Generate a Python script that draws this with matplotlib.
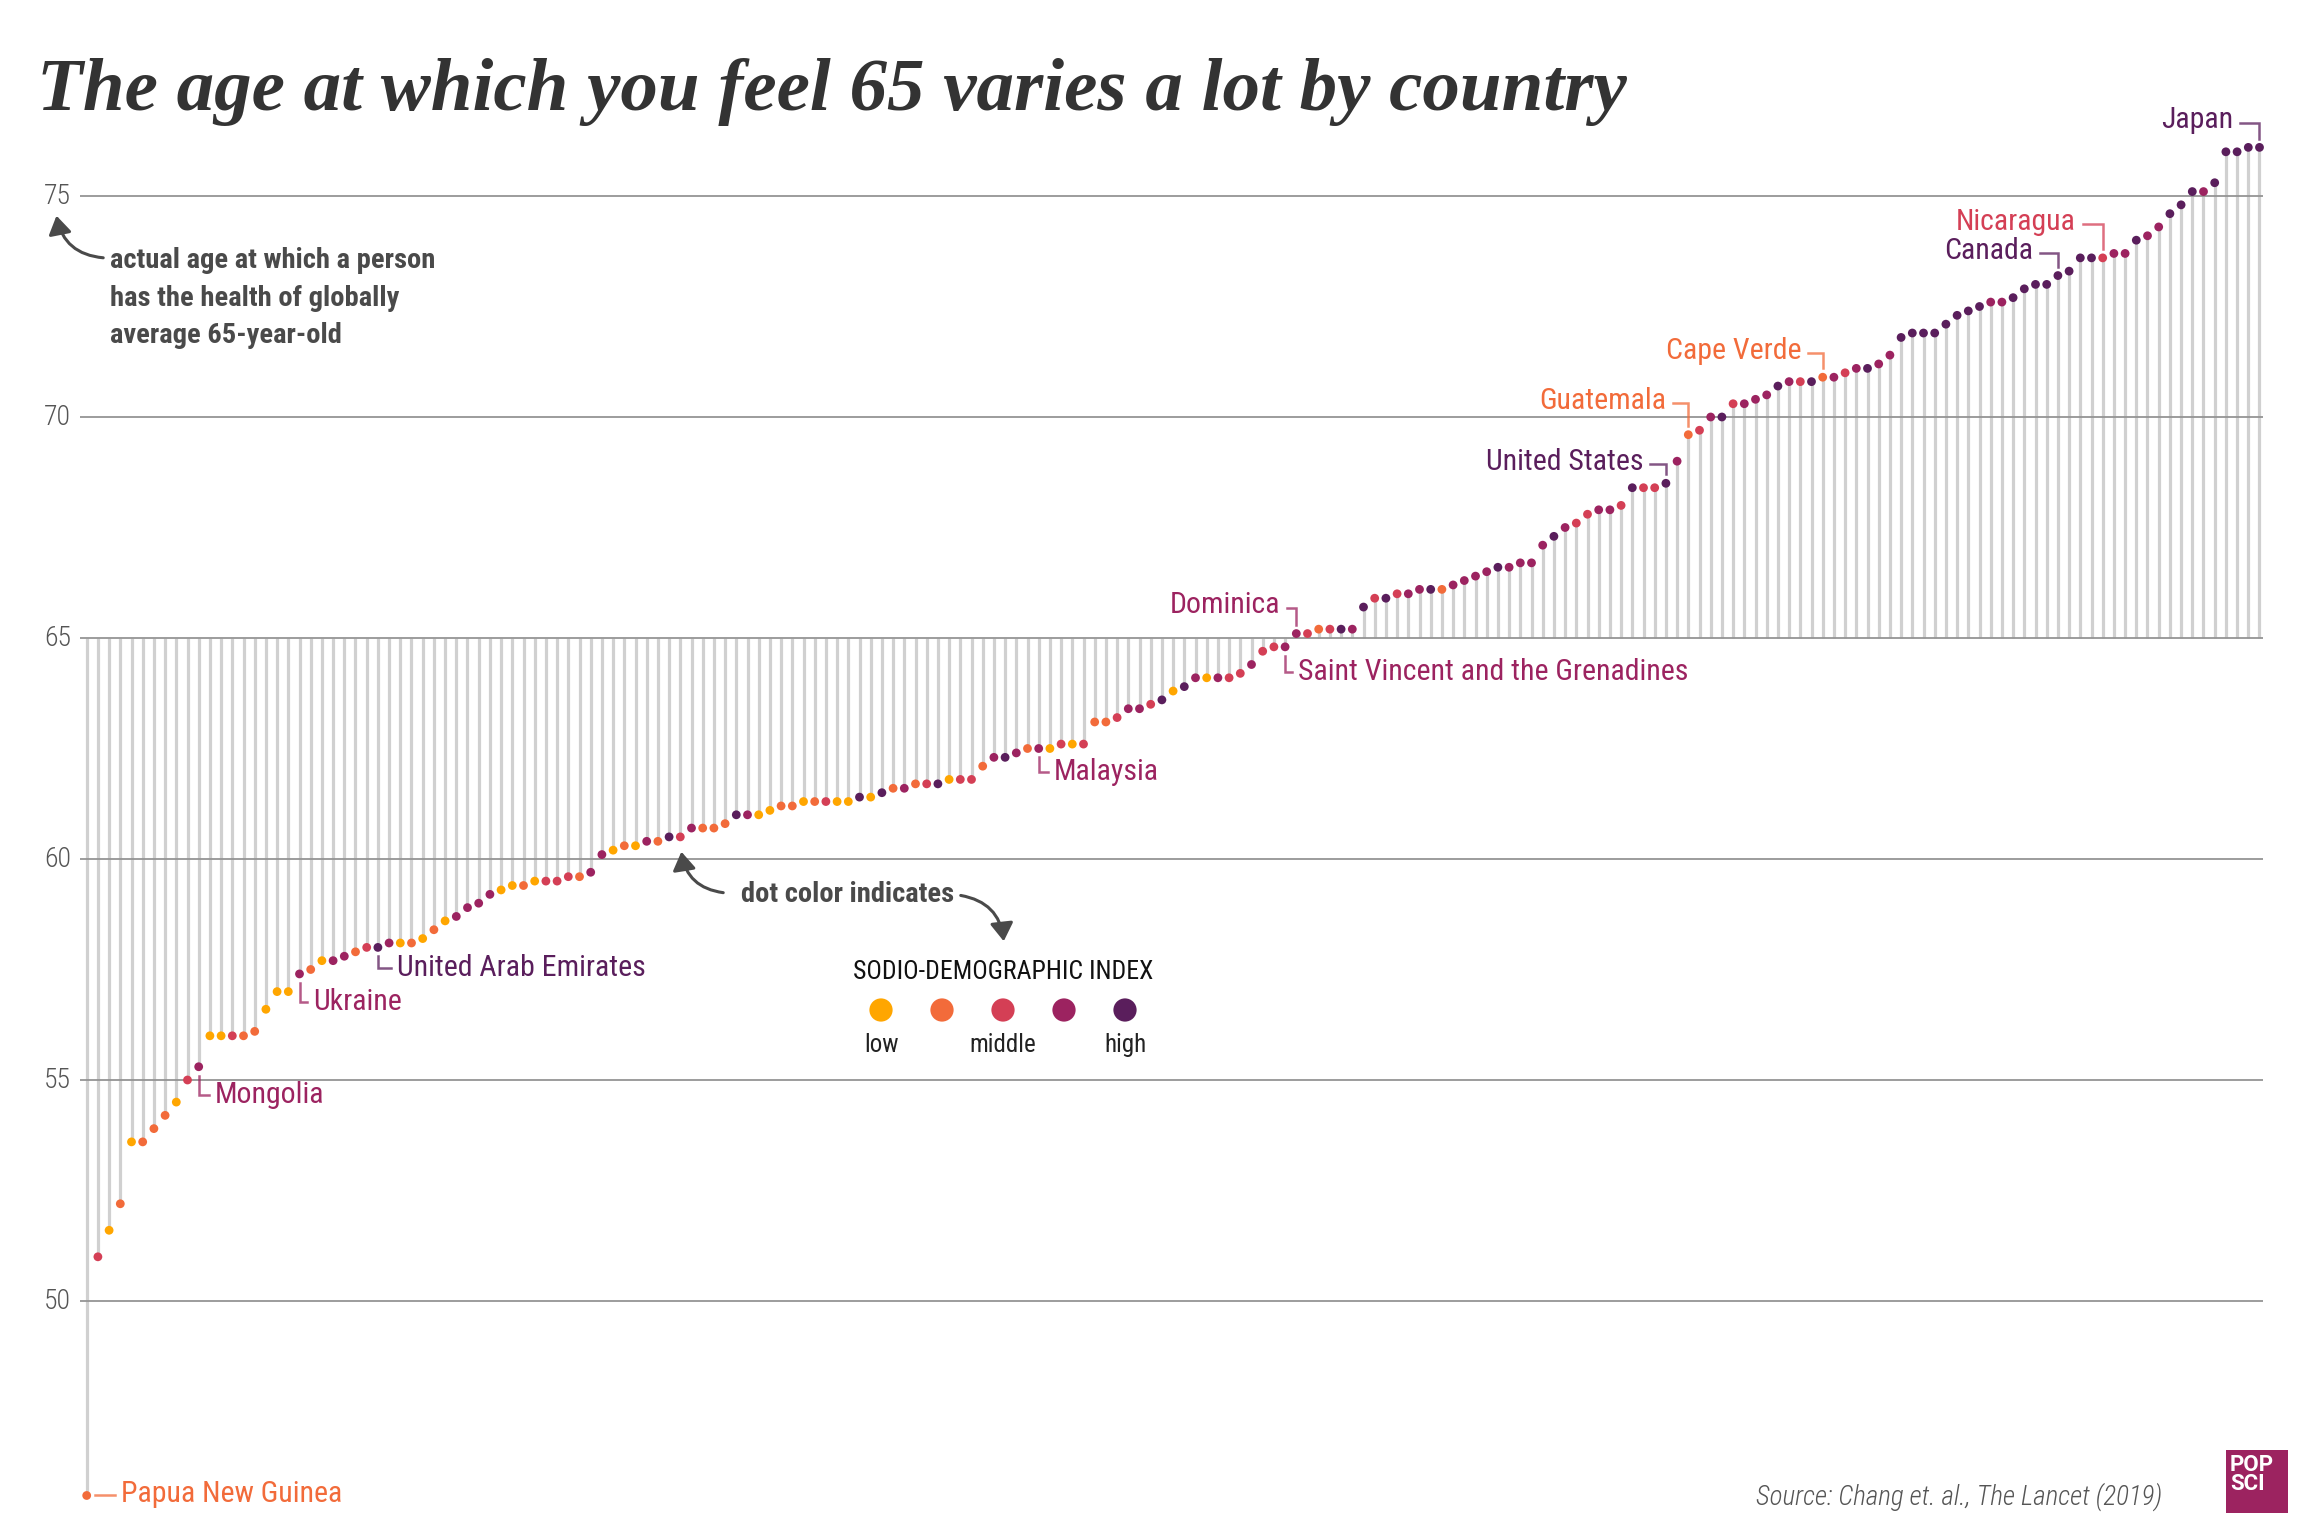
import matplotlib
matplotlib.use("Agg")
import matplotlib.pyplot as plt
from matplotlib import font_manager as fm
from matplotlib.patches import FancyArrowPatch, Rectangle

# ---------------- data ----------------
values = [45.6, 51.0, 51.6, 52.2, 53.6, 53.6, 53.9, 54.2, 54.5, 55.0,
          55.3, 56.0, 56.0, 56.0, 56.0, 56.1, 56.6, 57.0, 57.0, 57.4,
          57.5, 57.7, 57.7, 57.8, 57.9, 58.0, 58.0, 58.1, 58.1, 58.1,
          58.2, 58.4, 58.6, 58.7, 58.9, 59.0, 59.2, 59.3, 59.4, 59.4,
          59.5, 59.5, 59.5, 59.6, 59.6, 59.7, 60.1, 60.2, 60.3, 60.3,
          60.4, 60.4, 60.5, 60.5, 60.7, 60.7, 60.7, 60.8, 61.0, 61.0,
          61.0, 61.1, 61.2, 61.2, 61.3, 61.3, 61.3, 61.3, 61.3, 61.4,
          61.4, 61.5, 61.6, 61.6, 61.7, 61.7, 61.7, 61.8, 61.8, 61.8,
          62.1, 62.3, 62.3, 62.4, 62.5, 62.5, 62.5, 62.6, 62.6, 62.6,
          63.1, 63.1, 63.2, 63.4, 63.4, 63.5, 63.6, 63.8, 63.9, 64.1,
          64.1, 64.1, 64.1, 64.2, 64.4, 64.7, 64.8, 64.8, 65.1, 65.1,
          65.2, 65.2, 65.2, 65.2, 65.7, 65.9, 65.9, 66.0, 66.0, 66.1,
          66.1, 66.1, 66.2, 66.3, 66.4, 66.5, 66.6, 66.6, 66.7, 66.7,
          67.1, 67.3, 67.5, 67.6, 67.8, 67.9, 67.9, 68.0, 68.4, 68.4,
          68.4, 68.5, 69.0, 69.6, 69.7, 70.0, 70.0, 70.3, 70.3, 70.4,
          70.5, 70.7, 70.8, 70.8, 70.8, 70.9, 70.9, 71.0, 71.1, 71.1,
          71.2, 71.4, 71.8, 71.9, 71.9, 71.9, 72.1, 72.3, 72.4, 72.5,
          72.6, 72.6, 72.7, 72.9, 73.0, 73.0, 73.2, 73.3, 73.6, 73.6,
          73.6, 73.7, 73.7, 74.0, 74.1, 74.3, 74.6, 74.8, 75.1, 75.1,
          75.3, 76.0, 76.0, 76.1, 76.1]

# socio-demographic index group: 0 low ... 4 high
sdi = [1, 2, 0, 1, 0, 1, 1, 1, 0, 2,
       3, 0, 0, 2, 1, 1, 0, 0, 0, 3,
       1, 0, 3, 3, 1, 2, 4, 3, 0, 1,
       0, 1, 0, 3, 3, 3, 3, 0, 0, 1,
       0, 2, 2, 2, 1, 3, 3, 0, 1, 0,
       3, 1, 4, 2, 3, 1, 1, 1, 4, 3,
       0, 0, 1, 1, 0, 1, 2, 0, 0, 4,
       0, 4, 1, 3, 1, 2, 4, 0, 2, 2,
       1, 3, 4, 3, 1, 3, 0, 2, 0, 2,
       1, 1, 2, 3, 3, 2, 4, 0, 4, 3,
       0, 3, 2, 2, 3, 2, 2, 3, 3, 2,
       1, 2, 4, 3, 4, 2, 4, 2, 3, 3,
       4, 1, 3, 3, 3, 3, 4, 3, 3, 3,
       3, 4, 3, 2, 2, 3, 3, 2, 4, 2,
       2, 4, 3, 1, 2, 3, 4, 2, 3, 3,
       3, 4, 3, 2, 4, 1, 3, 2, 3, 4,
       3, 3, 4, 4, 4, 4, 4, 4, 4, 4,
       3, 3, 4, 4, 4, 4, 4, 4, 4, 4,
       2, 3, 3, 4, 3, 3, 4, 4, 4, 3,
       4, 4, 4, 4, 4]

sdi_labels = ["low", "", "middle", "", "high"]
y_ticks = [50, 55, 60, 65, 70, 75]

# labelled countries (rank position in sorted order)
lab_names_below = ["Mongolia", "Ukraine", "United Arab Emirates", "Malaysia",
                   "Saint Vincent and the Grenadines"]
lab_idx_below = [10, 19, 26, 85, 107]
lab_names_above = ["Dominica", "United States", "Guatemala", "Cape Verde",
                   "Canada", "Nicaragua", "Japan"]
lab_idx_above = [108, 141, 143, 155, 176, 180, 194]

palette = ["#FFA600", "#F26B3A", "#D43F55", "#9C2360", "#5A1E5C"]

# ---------------- fonts ----------------
names = {f.name for f in fm.fontManager.ttflist}
NARROW = next((n for n in ["Liberation Sans Narrow", "Roboto Condensed",
                           "Open Sans Condensed"] if n in names), "Roboto")
SANS = [NARROW, "DejaVu Sans"]

# ---------------- figure ----------------
W, H = 2311, 1534
fig = plt.figure(figsize=(W / 100, H / 100), dpi=100)
ax = fig.add_axes([0, 0, 1, 1])
X0, DXP = 86.7, 11.2
Y60, DYP = 859.0, 44.2


def px(p):
    return (p - X0) / DXP


def py(p):
    return 60 - (p - Y60) / DYP


ax.set_xlim(px(0), px(W))
ax.set_ylim(py(H), py(0))
ax.axis("off")

n = len(values)
xs = list(range(n))
cols = [palette[c] for c in sdi]

# stems from 65
ax.vlines(xs, 65, values, color="#d0d0d0", lw=2.3, zorder=1)
# gridlines
ax.hlines(y_ticks, px(80), px(2263), color="#949494", lw=1.3, zorder=2)
# dots
ax.scatter(xs, values, s=40, c=cols, linewidths=0, zorder=3)

# y tick labels
for t in y_ticks:
    ax.text(px(71), t, str(t), ha="right", va="center", fontsize=20,
            color="#555555", family=SANS, weight="light")

# title
fig.text(37 / W, 1 - 110 / H, "The age at which you feel 65 varies a lot by country",
         family=["Liberation Serif", "DejaVu Serif"], weight="bold", style="italic",
         fontsize=54, color="#333333", ha="left", va="baseline")

# axis note
ax.text(px(110), py(298), "actual age at which a person\nhas the health of globally\naverage 65-year-old",
        ha="left", va="center", fontsize=20.5, weight="bold", color="#4a4a4a",
        family=SANS, linespacing=1.5)
ax.add_patch(FancyArrowPatch((px(106), py(258)), (px(56), py(213)),
                             connectionstyle="arc3,rad=-0.4",
                             arrowstyle="-|>,head_length=0.55,head_width=0.35",
                             mutation_scale=20, color="#4a4a4a", lw=2.2, zorder=5))

# dot color note
ax.text(px(741), py(894), "dot color indicates", ha="left", va="center",
        fontsize=20.5, weight="bold", color="#4a4a4a", family=SANS)
ax.add_patch(FancyArrowPatch((px(726), py(893)), (px(681), py(849)),
                             connectionstyle="arc3,rad=-0.4",
                             arrowstyle="-|>,head_length=0.55,head_width=0.35",
                             mutation_scale=20, color="#4a4a4a", lw=2.2, zorder=5))
ax.add_patch(FancyArrowPatch((px(958), py(895)), (px(1004), py(944)),
                             connectionstyle="arc3,rad=-0.4",
                             arrowstyle="-|>,head_length=0.55,head_width=0.35",
                             mutation_scale=20, color="#4a4a4a", lw=2.2, zorder=5))

# legend
ax.text(px(1003), py(972), "SODIO-DEMOGRAPHIC INDEX", ha="center", va="center",
        fontsize=18.5, color="#111111", family=SANS)
leg_x = [px(881 + 61 * k) for k in range(5)]
ax.scatter(leg_x, [py(1010)] * 5, s=280, c=palette, linewidths=0, zorder=4)
for k, lab in enumerate(sdi_labels):
    if lab:
        ax.text(leg_x[k], py(1045), lab, ha="center", va="center", fontsize=18,
                color="#222222", family=SANS)

# country labels: below-right
below_drop = [0.65, 0.63, 0.46, 0.54, 0.57]
below_text_dx = [1.45, 1.2, 1.7, 1.3, 1.15]
for name, i, d, tdx in zip(lab_names_below, lab_idx_below, below_drop, below_text_dx):
    c = palette[sdi[i]]
    v = values[i]
    ly = v - d
    ax.plot([i, i, i + tdx - 0.5], [v - 0.2, ly, ly], color=c, alpha=0.75, lw=1.8,
            zorder=2.5, solid_joinstyle="miter")
    ax.text(i + tdx, ly, name, ha="left", va="center", fontsize=21.5, color=c,
            family=SANS)

# country labels: above-left
above_rise = [0.59, 0.43, 0.71, 0.54, 0.50, 0.77, 0.56]
above_line = [0.8, 1.4, 1.4, 1.3, 1.6, 1.8, 1.7]
for name, i, d, ll in zip(lab_names_above, lab_idx_above, above_rise, above_line):
    c = palette[sdi[i]]
    v = values[i]
    ly = v + d
    ax.plot([i - ll, i, i], [ly, ly, v + 0.2], color=c, alpha=0.75, lw=1.8,
            zorder=2.5, solid_joinstyle="miter")
    ax.text(i - ll - 0.6, ly + 0.05, name, ha="right", va="center", fontsize=21.5,
            color=c, family=SANS)

# Papua New Guinea
c0 = palette[sdi[0]]
ax.plot([0.75, 2.5], [values[0], values[0]], color=c0, alpha=0.75, lw=1.8, zorder=2.5)
ax.text(3.1, values[0] + 0.03, "Papua New Guinea", ha="left", va="center",
        fontsize=21.5, color=c0, family=SANS)

# source
fig.text(2162 / W, 1 - 1497 / H, "Source: Chang et. al., The Lancet (2019)",
         ha="right", va="center", fontsize=19.5, style="italic", color="#555555",
         family=SANS, weight="light")

# logo
fig.patches.append(Rectangle((2226 / W, 1 - 1513 / H), 62 / W, 63 / H,
                             transform=fig.transFigure, facecolor="#9C2360",
                             edgecolor="none"))
fig.text(2230 / W, 1 - 1454 / H, "POP\nSCI", ha="left", va="top", fontsize=16,
         weight="bold", color="white", family=["Roboto", "DejaVu Sans"],
         linespacing=0.8)

fig.savefig("out.png", dpi=100, facecolor="white")
